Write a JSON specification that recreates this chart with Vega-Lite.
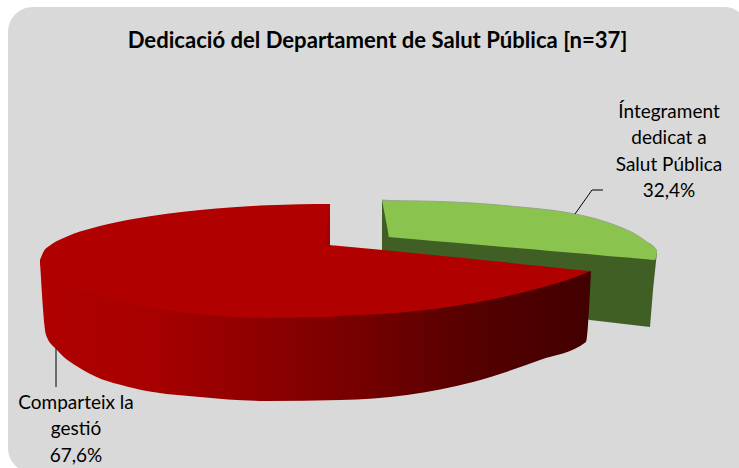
{
"$schema":"https://vega.github.io/schema/vega-lite/v6.json",
"width":739,"height":468,"padding":0,"autosize":{"type":"none"},
"background":"#ffffff",
"config":{"view":{"stroke":null}},
"title":{"text":"Dedicació del Departament de Salut Pública [n=37]","font":"Lato","fontSize":22.1,"fontWeight":"bold","color":"#000000","anchor":"middle","baseline":"middle","offset":-63,"dx":8},
"datasets":{
"panel":[{"x":8,"x2":749,"y":7,"y2":473}],
"greenSide":[{"x":382,"y":200,"y2":252},{"x":590,"y":239,"y2":320},{"x":650,"y":250,"y2":327},{"x":653,"y":251,"y2":290},{"x":657,"y":251,"y2":252}],
"greenTop":[{"x":382,"y":200,"y2":200},{"x":388,"y":200.4,"y2":231.7},{"x":389,"y":200.5,"y2":237},{"x":391,"y":200.6,"y2":237.2},{"x":420,"y":201,"y2":239.7},{"x":453,"y":202,"y2":242.5},{"x":487,"y":204,"y2":245.4},{"x":520,"y":207,"y2":248.3},{"x":550,"y":210,"y2":251},{"x":575,"y":214,"y2":253},{"x":600,"y":220,"y2":255.2},{"x":620,"y":227,"y2":257},{"x":635,"y":234,"y2":258.2},{"x":647,"y":242,"y2":259.3},{"x":655,"y":248,"y2":260},{"x":657,"y":251,"y2":252}],
"redSide":[{"x":40,"y":260,"y2":262},{"x":46,"y":255,"y2":335},{"x":57,"y":272,"y2":350},{"x":83,"y":280,"y2":370},{"x":133,"y":295,"y2":388},{"x":200,"y":305,"y2":397},{"x":267,"y":310,"y2":401},{"x":340,"y":308,"y2":400},{"x":407,"y":305,"y2":395},{"x":473,"y":295,"y2":382},{"x":540,"y":280,"y2":360},{"x":586,"y":272,"y2":342},{"x":591,"y":271,"y2":271}],
"redTop":[{"x":40,"y":260,"y2":264},{"x":44,"y":250.7,"y2":272},{"x":50,"y":245.4,"y2":278},{"x":58,"y":240.6,"y2":282},{"x":67,"y":236.4,"y2":285},{"x":80,"y":231.6,"y2":290},{"x":100,"y":225.9,"y2":295},{"x":133,"y":218.9,"y2":304},{"x":167,"y":213.7,"y2":310},{"x":200,"y":209.9,"y2":314},{"x":233,"y":207.2,"y2":317},{"x":267,"y":205.3,"y2":318},{"x":300,"y":204.3,"y2":317.5},{"x":330,"y":204,"y2":317},{"x":330.01,"y":245,"y2":317},{"x":340,"y":246,"y2":316},{"x":383,"y":250,"y2":314},{"x":407,"y":252.4,"y2":312},{"x":473,"y":259,"y2":303},{"x":540,"y":266,"y2":288},{"x":573,"y":269.5,"y2":278},{"x":591,"y":271,"y2":271}],
"redNotch":[{"x":325,"y":243,"y2":243},{"x":330,"y":204,"y2":245}],
"leaders":[{"slice":"a","o":1,"x":575,"y":214},{"slice":"a","o":2,"x":592,"y":190},{"slice":"a","o":3,"x":603,"y":190},{"slice":"b","o":1,"x":56,"y":348},{"slice":"b","o":2,"x":56,"y":387}],
"labels":[{"x":669,"y":112,"label":"Íntegrament\ndedicat a\nSalut Pública\n32,4%","value":32.4},{"x":76,"y":403,"label":"Comparteix la\ngestió\n67,6%","value":67.6}]
},
"encoding":{
"x":{"field":"x","type":"quantitative","axis":null,"scale":{"domain":[0,739],"nice":false,"zero":false}},
"y":{"field":"y","type":"quantitative","axis":null,"scale":{"domain":[468,0],"nice":false,"zero":false}}
},
"layer":[
{"data":{"name":"panel"},"mark":{"type":"rect","fill":"#d9d9d9","cornerRadius":25,"clip":true},"encoding":{"x2":{"field":"x2"},"y2":{"field":"y2"}}},
{"data":{"name":"greenSide"},"mark":{"type":"area","color":"#3f5f24"},"encoding":{"y2":{"field":"y2"}}},
{"data":{"name":"greenTop"},"mark":{"type":"area","color":"#8bc34f","interpolate":"monotone"},"encoding":{"y2":{"field":"y2"}}},
{"data":{"name":"greenTop"},"mark":{"type":"line","color":"#98a58c","strokeWidth":1,"interpolate":"monotone"}},
{"data":{"name":"redSide"},"mark":{"type":"area","interpolate":"monotone","color":{"gradient":"linear","x1":0,"y1":0,"x2":1,"y2":0,"stops":[{"offset":0,"color":"#b00000"},{"offset":0.2,"color":"#a80000"},{"offset":0.35,"color":"#940000"},{"offset":0.55,"color":"#7a0000"},{"offset":0.78,"color":"#560000"},{"offset":1,"color":"#420000"}]}},"encoding":{"y2":{"field":"y2"}}},
{"data":{"name":"redTop"},"mark":{"type":"area","color":"#b00000","interpolate":"monotone"},"encoding":{"y2":{"field":"y2"}}},
{"data":{"name":"redNotch"},"mark":{"type":"area","color":"#9c0000"},"encoding":{"y2":{"field":"y2"}}},
{"data":{"name":"leaders"},"mark":{"type":"line","color":"#000000","strokeWidth":1},"encoding":{"detail":{"field":"slice"},"order":{"field":"o"}}},
{"data":{"name":"labels"},"mark":{"type":"text","font":"Lato","fontSize":19,"color":"#000000","align":"center","baseline":"middle","lineHeight":26.3,"lineBreak":"\n"},"encoding":{"text":{"field":"label"}}}
]
}
